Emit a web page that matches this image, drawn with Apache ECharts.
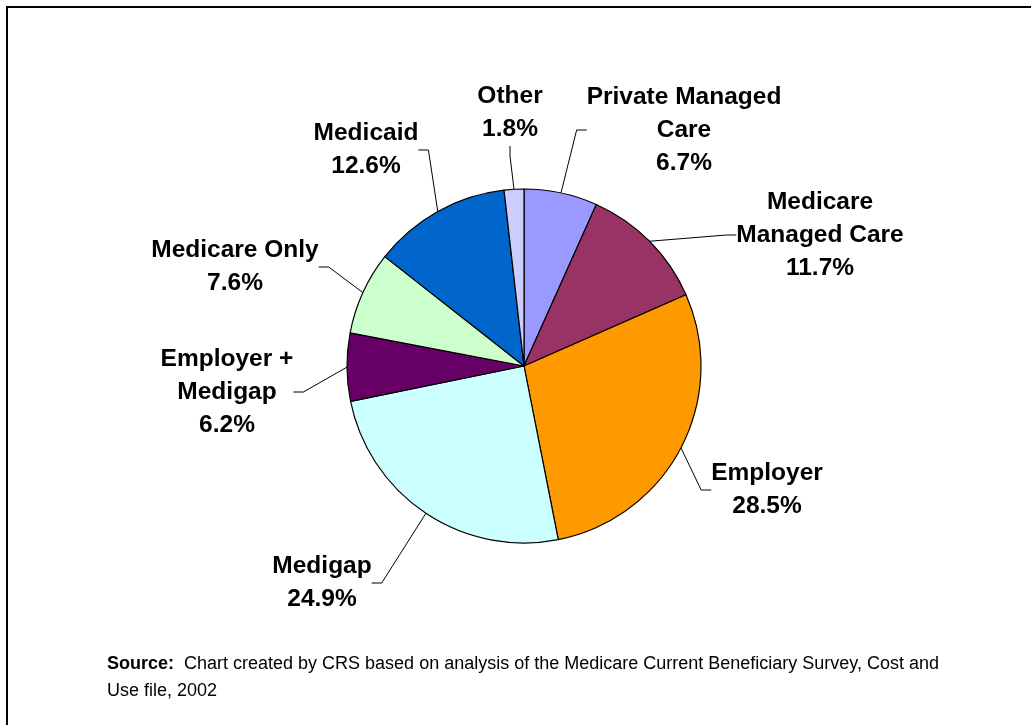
<!DOCTYPE html>
<html>
<head>
<meta charset="utf-8">
<script src="https://cdn.jsdelivr.net/npm/echarts@6/dist/echarts.min.js"></script>
<style>
  html, body { margin: 0; padding: 0; background: #fff; }
  #chart { position: absolute; left: 0; top: 0; width: 1031px; height: 725px; }
  #frame { position: absolute; left: 6px; top: 6px; width: 1030px; height: 725px;
           border-left: 2px solid #000; border-top: 2px solid #000; pointer-events: none; }
</style>
</head>
<body>
<div id="chart"></div>
<div id="frame"></div>
<script>
const categories = ['Private Managed Care', 'Medicare Managed Care', 'Employer', 'Medigap',
                    'Employer + Medigap', 'Medicare Only', 'Medicaid', 'Other'];
const labelNames = ['Private Managed\nCare', 'Medicare\nManaged Care', 'Employer', 'Medigap',
                    'Employer +\nMedigap', 'Medicare Only', 'Medicaid', 'Other'];
const shares = [6.7, 11.7, 28.5, 24.9, 6.2, 7.6, 12.6, 1.8];
const colors = ['#9999FF', '#993366', '#FF9900', '#CCFFFF', '#660066', '#CCFFCC', '#0066CC', '#CCCCFF'];
// label block centres (style, in px)
const labelPos = [[684, 130], [820, 235], [767, 490], [322, 583], [227, 392], [235, 267], [366, 150], [510, 113]];

const chart = echarts.init(document.getElementById('chart'), null, { renderer: 'canvas' });
const FONT = '"Liberation Sans", Arial, Helvetica, sans-serif';

chart.setOption({
  animation: false,
  backgroundColor: '#ffffff',
  title: {
    left: 102, top: 646,
    text: '{b|Source:}  Chart created by CRS based on analysis of the Medicare Current Beneficiary Survey, Cost and\nUse file, 2002',
    textStyle: {
      fontFamily: FONT, fontSize: 18, fontWeight: 'normal', color: '#000', lineHeight: 27,
      rich: { b: { fontFamily: FONT, fontSize: 18, fontWeight: 'bold', color: '#000', lineHeight: 27 } }
    }
  },
  series: [{
    type: 'pie',
    center: [524, 366],
    radius: 177,
    startAngle: 90,
    clockwise: true,
    avoidLabelOverlap: false,
    itemStyle: { borderColor: '#000', borderWidth: 1.2 },
    label: {
      show: true,
      position: 'outside',
      fontFamily: FONT, fontSize: 24.5, fontWeight: 'bold', color: '#000', lineHeight: 33,
      align: 'center',
      formatter: p => labelNames[p.dataIndex] + '\n' + shares[p.dataIndex].toFixed(1) + '%'
    },
    labelLine: { show: true, length: 20, length2: 10, lineStyle: { color: '#000', width: 1 } },
    labelLayout: p => ({
      x: labelPos[p.dataIndex][0],
      y: labelPos[p.dataIndex][1],
      align: 'center',
      verticalAlign: 'middle'
    }),
    data: categories.map((c, i) => ({ name: c, value: shares[i], itemStyle: { color: colors[i] } }))
  }]
});
</script>
</body>
</html>
